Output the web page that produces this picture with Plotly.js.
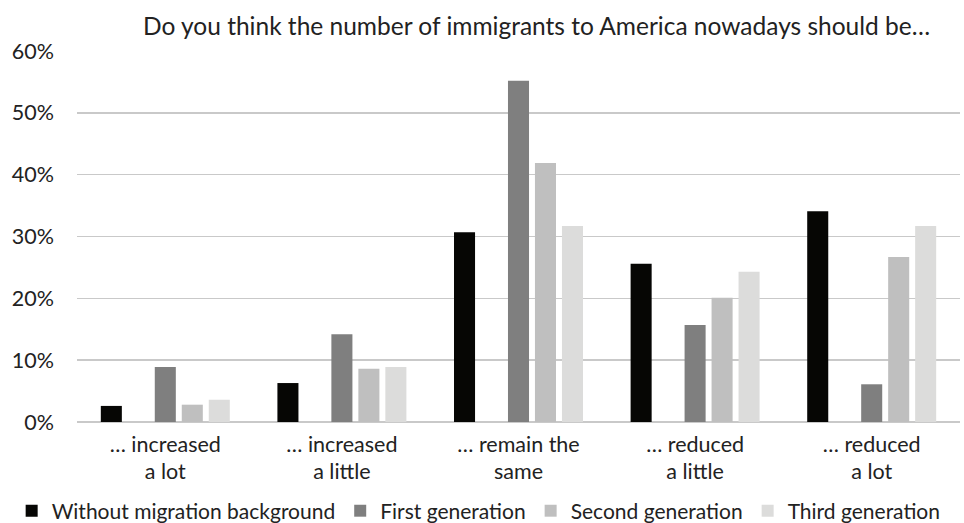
<!DOCTYPE html>
<html>
<head>
<meta charset="utf-8">
<script src="https://cdn.plot.ly/plotly-3.0.1.min.js"></script>
<style>html,body{margin:0;padding:0;background:#fff;}#chart{width:964px;height:523px;}</style>
</head>
<body>
<div id="chart"></div>
<script>
const categories = ["… increased<br>a lot", "… increased<br>a little", "… remain the<br>same", "… reduced<br>a little", "… reduced<br>a lot"];
const withoutMigration = [2.6, 6.3, 30.7, 25.6, 34.1];
const emptySlot = [null, null, null, null, null];
const firstGeneration = [8.9, 14.2, 55.2, 15.7, 6.1];
const secondGeneration = [2.8, 8.6, 41.9, 20.1, 26.7];
const thirdGeneration = [3.6, 8.9, 31.7, 24.3, 31.7];
const seriesNames = ["Without migration background", "", "First generation", "Second generation", "Third generation"];
const colors = ["#060604", "#ffffff", "#7f7f7f", "#bfbfbf", "#dcdcdb"];
const values = [withoutMigration, emptySlot, firstGeneration, secondGeneration, thirdGeneration];

const traces = values.map((v, i) => ({
  type: "bar",
  x: categories,
  y: v,
  name: seriesNames[i],
  marker: {color: colors[i]},
  showlegend: i !== 1,
  hoverinfo: "skip"
}));

const layout = {
  width: 964, height: 523,
  paper_bgcolor: "#fff", plot_bgcolor: "#fff",
  font: {family: "Lato, 'Open Sans', sans-serif", color: "#222", size: 18},
  title: {text: "Do you think the number of immigrants to America nowadays should be…", font: {size: 24.5, color: "#222"}, x: 0.5566, xanchor: "center", y: 0.95, yanchor: "middle"},
  margin: {l: 77, r: 4, t: 51, b: 101, autoexpand: false},
  barmode: "group",
  bargap: 0.236,
  bargroupgap: 0.22,
  xaxis: {showgrid: false, showline: false, zeroline: false, ticks: "", tickfont: {size: 21.5}, ticklabelstandoff: 7, fixedrange: true, automargin: false},
  yaxis: {range: [0, 60], dtick: 10, ticksuffix: "%", showgrid: true, gridcolor: "#c9c9c9", gridwidth: 1.5,
          zeroline: true, zerolinecolor: "#c9c9c9", zerolinewidth: 1.5, tickfont: {size: 21.5}, ticklabelstandoff: 22, fixedrange: true, automargin: false},
  legend: {orientation: "h", x: -0.074, xanchor: "left", y: -0.24, yanchor: "middle", font: {size: 21}, itemwidth: 30, traceorder: "normal"},
  showlegend: true
};

Plotly.newPlot("chart", traces, layout, {displayModeBar: false, staticPlot: true});
</script>
</body>
</html>
